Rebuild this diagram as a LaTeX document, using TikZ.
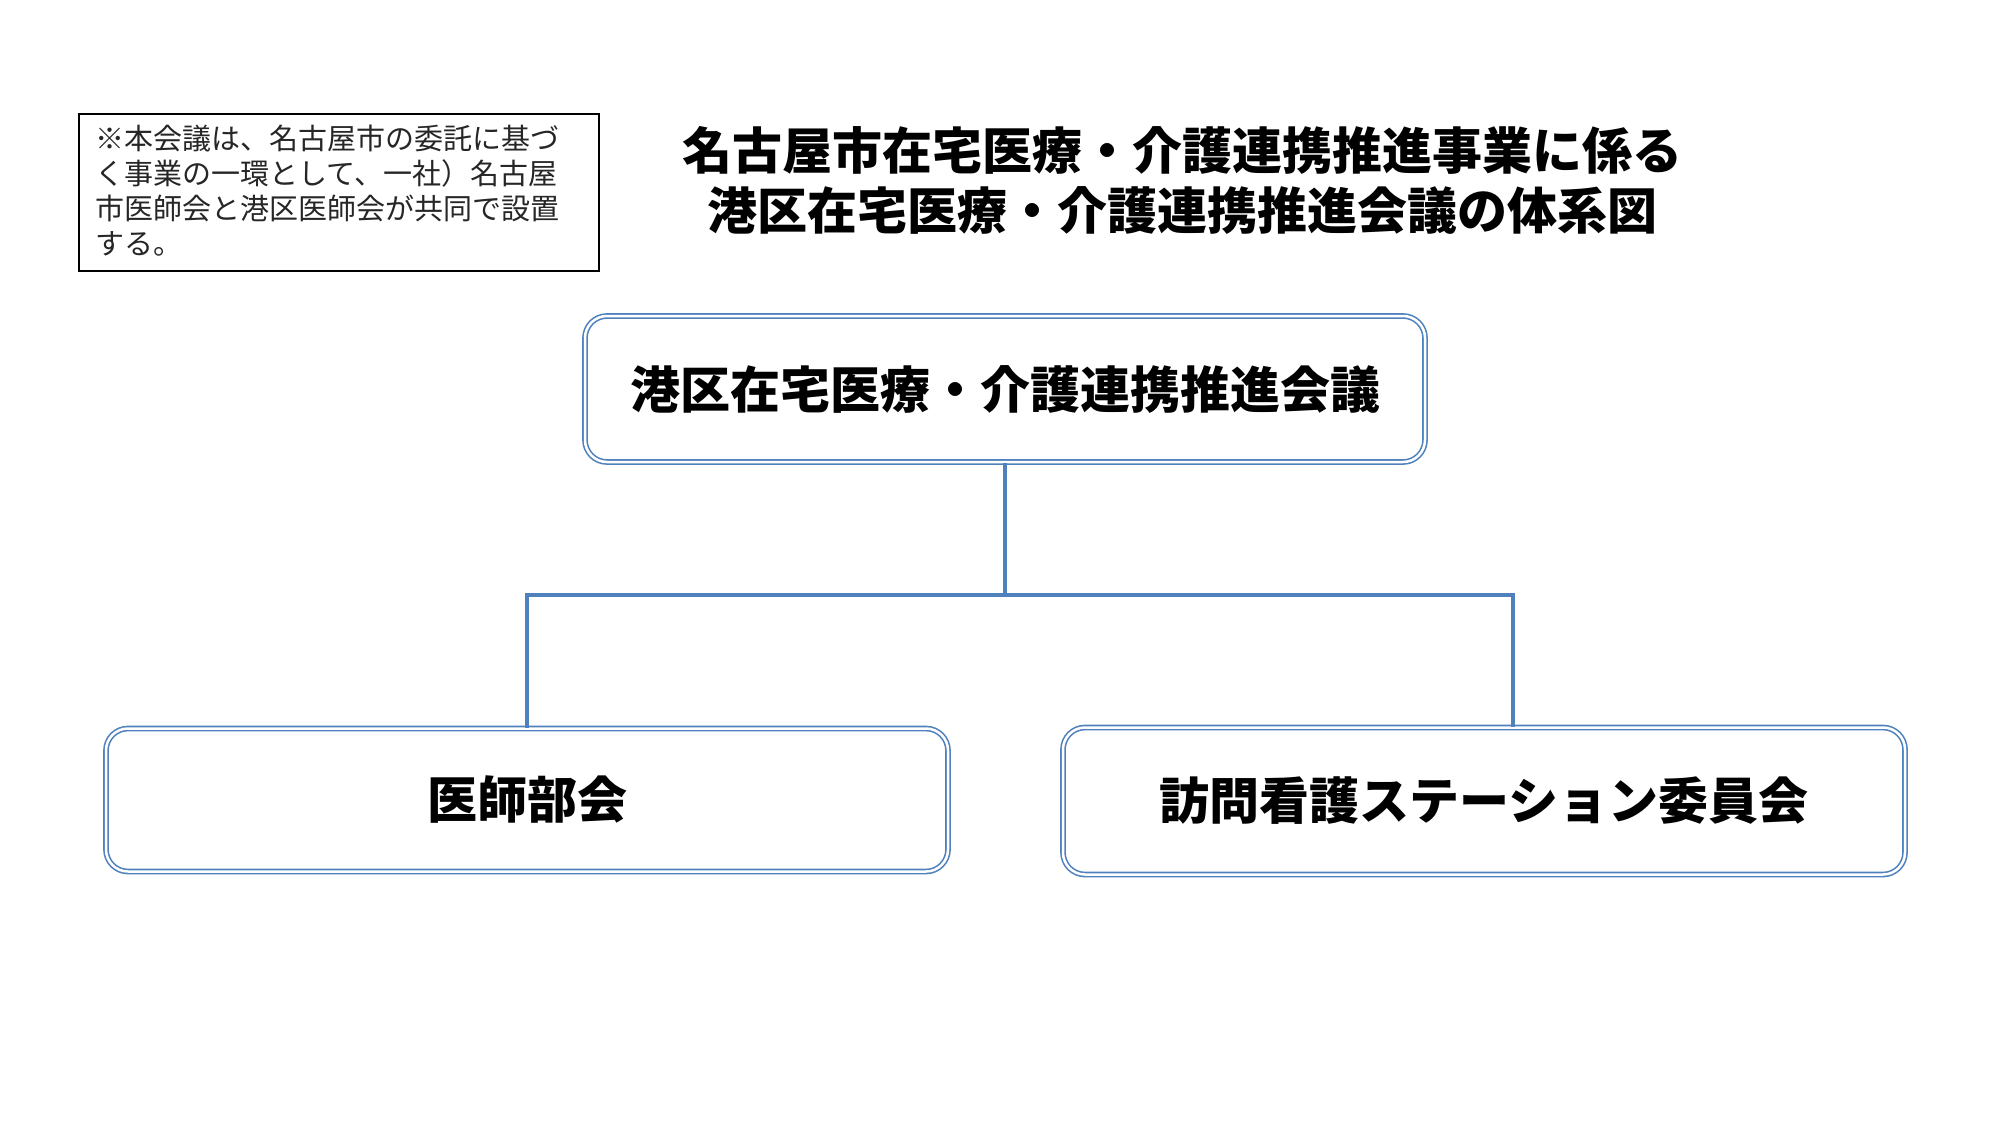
\documentclass[tikz,border=0pt]{standalone}
\usepackage{fontspec}
\newfontfamily\cjk{Noto Sans CJK JP}
\definecolor{lblue}{RGB}{79,129,189}
\begin{document}
\begin{tikzpicture}[x=1pt,y=-1pt,
  org/.style={draw=lblue,double=white,double distance=2.5pt,line width=1.6pt,rounded corners=22pt,inner sep=0pt,font=\cjk\bfseries\fontsize{50}{58}\selectfont},
  conn/.style={draw=lblue,line width=4.5pt}]
\useasboundingbox (0,0) rectangle (2000,1125);
\fill[white] (0,0) rectangle (2000,1125);
\node[draw=black,line width=1.5pt,minimum width=520pt,minimum height=157pt,inner sep=0pt] (note) at (339,192.5) {};
\node[anchor=north west,align=left,font=\cjk\fontsize{29}{35}\selectfont,text=black!85] (notetxt) at (92,121) {※本会議は、名古屋市の委託に基づ\\く事業の一環として、一社）名古屋\\市医師会と港区医師会が共同で設置\\する。};
\node[align=center,font=\cjk\bfseries\fontsize{50}{60}\selectfont] (title) at (1182,180) {名古屋市在宅医療・介護連携推進事業に係る\\港区在宅医療・介護連携推進会議の体系図};
\node[org,minimum width=840pt,minimum height=146pt] (top) at (1005,389) {港区在宅医療・介護連携推進会議};
\node[org,minimum width=842pt,minimum height=143pt] (left) at (527,800) {医師部会};
\node[org,minimum width=842pt,minimum height=147pt] (right) at (1484,801) {訪問看護ステーション委員会};
\coordinate (j) at (1005,595);
\coordinate (rj) at (1513,595);
\draw[conn] (top.south) -- (j);
\draw[conn] (left.north) -- (left.north |- j) -- (rj) -- (rj |- right.north);
\end{tikzpicture}
\end{document}
